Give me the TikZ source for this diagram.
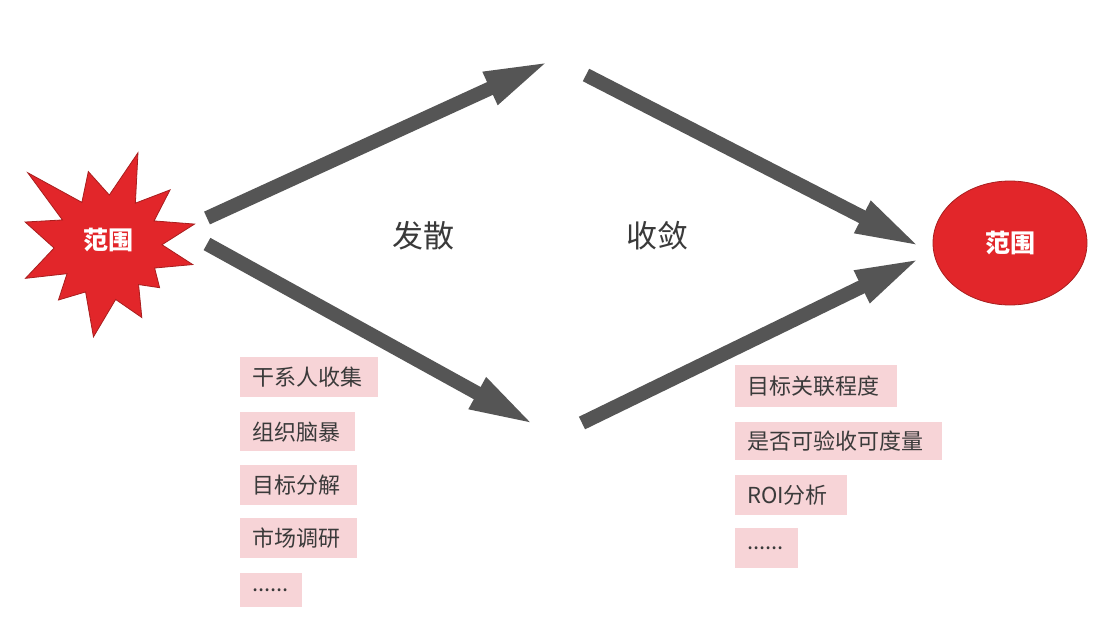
\documentclass[tikz,border=0pt]{standalone}
\usepackage{fontspec}
\setmainfont{Noto Sans CJK SC}
\usetikzlibrary{arrows.meta,calc,shapes.geometric}
\definecolor{arrowgray}{HTML}{555555}
\definecolor{starred}{HTML}{E2262A}
\definecolor{edgered}{HTML}{A81E1E}
\definecolor{boxpink}{HTML}{F7D4D7}
\definecolor{txtgray}{HTML}{3A3A3A}
\begin{document}
\begin{tikzpicture}[x=1pt,y=-1pt,
  bigarrow/.style={line width=14pt, draw=arrowgray, -{Triangle[length=66pt,width=32pt]}},
  itembox/.style={fill=boxpink, anchor=north west, inner xsep=12pt, inner ysep=0pt,
    align=left, text=txtgray, font=\fontsize{22}{24}\selectfont, text width=#1},
  heading/.style={text=txtgray, font=\fontsize{31}{33}\selectfont},
  redlabel/.style={text=white, font=\bfseries\fontsize{25}{27}\selectfont}
]
\useasboundingbox (0,0) rectangle (1100,634);
\fill[white] (0,0) rectangle (1100,634);

% star
\filldraw[fill=starred, draw=edgered, line width=0.8pt, shift={(108,245)}]
  (-72:97) -- (-56.8:50) -- (-41.6:83) -- (-27.6:52) -- (-13.6:89) -- (-0.3:54)
  -- (13:87) -- (26.3:52) -- (39.6:67) -- (52.3:50) -- (65:80) -- (82:55)
  -- (99:93) -- (115.5:52) -- (132:74) -- (145:50) -- (158:89) -- (176.8:54)
  -- (195.5:86) -- (208.8:52) -- (222:108) -- (238.5:50) -- (255:76) -- (271.5:50) -- cycle;
\node[redlabel] (src) at (108,240) {范围};

% target ellipse
\node[ellipse, fill=starred, draw=edgered, line width=0.8pt, minimum width=154pt,
  minimum height=124pt, inner sep=0pt, redlabel] (dst) at (1010,243) {范围};

% arrow endpoints
\coordinate (a1s) at (207,218);
\coordinate (a1e) at (550,61);
\coordinate (a2s) at (207,244);
\coordinate (a2e) at (535,425);
\coordinate (a3s) at (586,75);
\coordinate (a3e) at (921,247);
\coordinate (a4s) at (582,423);
\coordinate (a4e) at (921,258);

\draw[bigarrow] (a1s) -- (a1e);
\draw[bigarrow] (a2s) -- (a2e);
\draw[bigarrow] (a3s) -- (a3e);
\draw[bigarrow] (a4s) -- (a4e);

\node[heading] (fs) at (423,236) {发散};
\node[heading] (sl) at (657,236) {收敛};

% left list
\node[itembox=114pt, minimum height=40pt] (l1) at (240,357) {干系人收集};
\node[itembox=91pt, minimum height=39pt] (l2) at (240,412) {组织脑暴};
\node[itembox=93pt, minimum height=40pt] (l3) at (240,465) {目标分解};
\node[itembox=93pt, minimum height=40pt] (l4) at (240,518) {市场调研};
\node[itembox=38pt, minimum height=34pt] (l5) at (240,573) {......};

% right list
\node[itembox=138pt, minimum height=42pt] (r1) at (735,365) {目标关联程度};
\node[itembox=183pt, minimum height=38pt] (r2) at (735,422) {是否可验收可度量};
\node[itembox=88pt, minimum height=40pt] (r3) at (735,475) {ROI分析};
\node[itembox=39pt, minimum height=40pt] (r4) at (735,528) {......};
\end{tikzpicture}
\end{document}
